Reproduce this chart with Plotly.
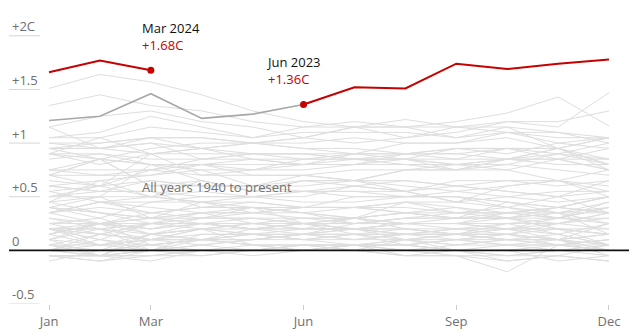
import plotly.graph_objects as go

months = ["Jan", "Feb", "Mar", "Apr", "May", "Jun", "Jul", "Aug", "Sep", "Oct", "Nov", "Dec"]
month_tick_idx = [0, 2, 5, 8, 11]

y_tick_vals = [-0.5, 0, 0.5, 1, 1.5, 2]
y_tick_text = ["-0.5", "0", "+0.5", "+1", "+1.5", "+2C"]

# Monthly anomalies (C above pre-industrial)
hist_1940s = [
    [0.05, 0.15, 0.10, 0.20, 0.25, 0.30, 0.30, 0.35, 0.40, 0.35, 0.30, 0.45],
    [0.40, 0.35, 0.30, 0.35, 0.40, 0.35, 0.40, 0.35, 0.30, 0.45, 0.40, 0.35],
    [0.30, 0.25, 0.20, 0.25, 0.20, 0.25, 0.20, 0.15, 0.20, 0.15, 0.20, 0.15],
    [0.10, 0.25, 0.15, 0.20, 0.20, 0.25, 0.20, 0.25, 0.25, 0.35, 0.30, 0.40],
    [0.45, 0.35, 0.30, 0.30, 0.35, 0.40, 0.40, 0.45, 0.45, 0.40, 0.35, 0.25],
    [0.30, 0.20, 0.25, 0.35, 0.25, 0.20, 0.30, 0.45, 0.35, 0.30, 0.20, 0.05],
    [0.20, 0.15, 0.10, 0.20, 0.05, 0.00, 0.05, 0.05, 0.10, 0.05, 0.10, -0.05],
    [0.05, 0.00, 0.15, 0.10, 0.15, 0.15, 0.10, 0.10, 0.15, 0.25, 0.15, 0.05],
    [0.20, 0.05, 0.00, 0.15, 0.15, 0.10, 0.05, 0.05, 0.10, 0.05, 0.05, 0.00],
    [0.15, 0.05, 0.10, 0.10, 0.05, 0.00, 0.05, 0.05, 0.00, 0.05, 0.00, -0.05],
]
hist_1950s = [
    [-0.05, -0.10, 0.00, -0.05, 0.00, 0.05, 0.00, -0.05, 0.00, -0.10, -0.05, 0.05],
    [-0.05, -0.05, 0.00, 0.05, 0.10, 0.15, 0.15, 0.20, 0.20, 0.20, 0.15, 0.25],
    [0.20, 0.20, 0.10, 0.15, 0.15, 0.10, 0.15, 0.15, 0.15, 0.10, 0.05, 0.10],
    [0.15, 0.25, 0.25, 0.25, 0.20, 0.20, 0.20, 0.20, 0.15, 0.15, 0.10, 0.15],
    [0.00, 0.10, 0.00, 0.00, 0.00, 0.00, 0.00, 0.00, 0.05, 0.10, 0.10, 0.00],
    [0.10, -0.05, -0.05, 0.00, 0.00, 0.05, 0.05, 0.05, 0.00, 0.00, -0.10, -0.05],
    [-0.05, -0.10, -0.05, -0.05, 0.00, 0.00, 0.00, -0.05, -0.05, -0.05, 0.00, 0.05],
    [0.00, 0.05, 0.05, 0.10, 0.20, 0.25, 0.25, 0.25, 0.25, 0.20, 0.25, 0.35],
    [0.40, 0.35, 0.25, 0.20, 0.25, 0.20, 0.20, 0.15, 0.15, 0.20, 0.20, 0.20],
    [0.20, 0.15, 0.25, 0.25, 0.20, 0.20, 0.20, 0.20, 0.15, 0.10, 0.10, 0.15],
]
hist_1960s = [
    [0.10, 0.20, 0.00, 0.10, 0.10, 0.15, 0.10, 0.15, 0.20, 0.20, 0.10, 0.25],
    [0.15, 0.25, 0.20, 0.25, 0.25, 0.25, 0.15, 0.15, 0.15, 0.10, 0.15, 0.05],
    [0.20, 0.20, 0.15, 0.20, 0.15, 0.20, 0.20, 0.15, 0.15, 0.20, 0.20, 0.15],
    [0.15, 0.25, 0.05, 0.10, 0.15, 0.15, 0.25, 0.30, 0.30, 0.30, 0.35, 0.15],
    [0.20, 0.10, 0.05, 0.00, 0.00, 0.05, 0.05, -0.05, -0.05, -0.10, -0.05, -0.10],
    [0.00, -0.05, 0.00, 0.00, 0.05, 0.05, 0.00, 0.10, 0.05, 0.10, 0.05, 0.10],
    [0.00, 0.15, 0.10, 0.05, 0.10, 0.15, 0.15, 0.10, 0.05, 0.05, 0.05, 0.05],
    [0.05, -0.05, 0.10, 0.10, 0.10, 0.10, 0.10, 0.15, 0.10, 0.15, 0.10, 0.05],
    [-0.05, -0.05, 0.15, 0.10, 0.05, 0.05, 0.05, 0.10, 0.10, 0.15, 0.10, 0.05],
    [0.05, 0.05, 0.15, 0.25, 0.30, 0.25, 0.20, 0.25, 0.25, 0.25, 0.30, 0.30],
]
hist_1970s = [
    [0.25, 0.30, 0.15, 0.20, 0.15, 0.10, 0.15, 0.05, 0.10, 0.10, 0.10, 0.00],
    [0.00, -0.05, -0.05, 0.00, 0.00, 0.00, 0.05, 0.05, 0.00, 0.00, 0.05, 0.00],
    [-0.10, 0.00, 0.05, 0.10, 0.10, 0.15, 0.20, 0.25, 0.20, 0.25, 0.25, 0.35],
    [0.35, 0.45, 0.40, 0.35, 0.35, 0.30, 0.30, 0.20, 0.15, 0.15, 0.05, 0.00],
    [-0.05, -0.05, 0.00, 0.05, 0.00, 0.05, 0.05, 0.10, 0.00, -0.05, 0.00, 0.00],
    [0.10, 0.05, 0.10, 0.10, 0.05, 0.05, 0.05, 0.00, 0.00, -0.05, -0.05, -0.10],
    [-0.05, -0.05, -0.10, 0.00, -0.05, 0.00, 0.05, 0.00, -0.05, -0.20, 0.05, 0.10],
    [0.15, 0.25, 0.30, 0.35, 0.35, 0.35, 0.30, 0.25, 0.25, 0.20, 0.30, 0.25],
    [0.25, 0.25, 0.30, 0.25, 0.20, 0.15, 0.20, 0.10, 0.15, 0.15, 0.25, 0.20],
    [0.20, 0.10, 0.25, 0.25, 0.20, 0.25, 0.25, 0.30, 0.35, 0.35, 0.40, 0.50],
]
hist_1980s = [
    [0.35, 0.45, 0.35, 0.40, 0.45, 0.40, 0.40, 0.40, 0.35, 0.35, 0.40, 0.35],
    [0.55, 0.45, 0.50, 0.45, 0.35, 0.40, 0.40, 0.45, 0.40, 0.30, 0.35, 0.45],
    [0.20, 0.25, 0.20, 0.30, 0.30, 0.25, 0.30, 0.25, 0.30, 0.30, 0.40, 0.50],
    [0.60, 0.55, 0.55, 0.50, 0.50, 0.45, 0.45, 0.50, 0.50, 0.40, 0.50, 0.35],
    [0.35, 0.25, 0.35, 0.30, 0.40, 0.25, 0.30, 0.35, 0.30, 0.30, 0.20, 0.15],
    [0.25, 0.15, 0.25, 0.30, 0.30, 0.30, 0.25, 0.30, 0.30, 0.30, 0.25, 0.30],
    [0.35, 0.40, 0.35, 0.40, 0.40, 0.35, 0.30, 0.35, 0.30, 0.35, 0.35, 0.35],
    [0.40, 0.50, 0.30, 0.45, 0.50, 0.55, 0.60, 0.55, 0.60, 0.55, 0.50, 0.65],
    [0.70, 0.60, 0.65, 0.60, 0.60, 0.55, 0.55, 0.50, 0.50, 0.45, 0.35, 0.40],
    [0.35, 0.45, 0.45, 0.45, 0.40, 0.40, 0.50, 0.50, 0.50, 0.45, 0.40, 0.50],
]
hist_1990s = [
    [0.45, 0.50, 0.80, 0.65, 0.55, 0.55, 0.55, 0.55, 0.45, 0.60, 0.65, 0.55],
    [0.60, 0.65, 0.50, 0.65, 0.55, 0.65, 0.65, 0.60, 0.55, 0.50, 0.45, 0.50],
    [0.60, 0.55, 0.55, 0.40, 0.40, 0.35, 0.25, 0.25, 0.25, 0.30, 0.30, 0.40],
    [0.50, 0.50, 0.50, 0.45, 0.45, 0.40, 0.40, 0.35, 0.35, 0.40, 0.30, 0.40],
    [0.40, 0.30, 0.45, 0.50, 0.50, 0.55, 0.50, 0.50, 0.55, 0.60, 0.65, 0.60],
    [0.70, 0.85, 0.60, 0.65, 0.55, 0.65, 0.65, 0.65, 0.60, 0.65, 0.65, 0.50],
    [0.50, 0.60, 0.50, 0.55, 0.50, 0.50, 0.60, 0.55, 0.45, 0.50, 0.55, 0.55],
    [0.50, 0.55, 0.65, 0.60, 0.60, 0.70, 0.65, 0.75, 0.80, 0.85, 0.85, 0.85],
    [0.90, 1.05, 0.90, 0.95, 0.90, 0.85, 0.90, 0.85, 0.75, 0.75, 0.65, 0.75],
    [0.70, 0.85, 0.60, 0.60, 0.60, 0.60, 0.65, 0.55, 0.65, 0.65, 0.60, 0.65],
]
hist_2000s = [
    [0.45, 0.65, 0.70, 0.75, 0.60, 0.65, 0.60, 0.65, 0.60, 0.55, 0.50, 0.55],
    [0.65, 0.60, 0.75, 0.70, 0.75, 0.75, 0.80, 0.85, 0.80, 0.80, 0.90, 0.80],
    [0.95, 0.95, 1.00, 0.85, 0.85, 0.85, 0.85, 0.80, 0.80, 0.75, 0.85, 0.75],
    [0.90, 0.85, 0.80, 0.80, 0.85, 0.80, 0.80, 0.90, 0.90, 0.95, 0.85, 0.95],
    [0.85, 0.90, 0.80, 0.80, 0.70, 0.70, 0.65, 0.75, 0.75, 0.85, 0.95, 0.80],
    [0.90, 0.80, 0.90, 0.90, 0.90, 0.90, 0.85, 0.85, 0.95, 0.95, 0.95, 0.85],
    [0.75, 0.85, 0.80, 0.75, 0.75, 0.85, 0.85, 0.85, 0.85, 0.95, 0.90, 1.00],
    [1.15, 0.95, 0.90, 0.95, 0.85, 0.80, 0.80, 0.80, 0.75, 0.80, 0.75, 0.70],
    [0.55, 0.60, 0.90, 0.70, 0.70, 0.70, 0.75, 0.75, 0.75, 0.85, 0.85, 0.75],
    [0.75, 0.70, 0.70, 0.80, 0.80, 0.80, 0.90, 0.90, 0.90, 0.85, 0.90, 0.85],
]
hist_2010s = [
    [0.95, 1.00, 1.05, 1.05, 1.00, 0.95, 0.95, 0.90, 0.85, 0.85, 0.95, 0.75],
    [0.70, 0.70, 0.75, 0.80, 0.75, 0.80, 0.85, 0.85, 0.80, 0.85, 0.80, 0.80],
    [0.75, 0.75, 0.75, 0.85, 0.90, 0.90, 0.90, 0.90, 0.95, 0.95, 0.95, 0.80],
    [0.90, 0.90, 0.85, 0.85, 0.90, 0.90, 0.85, 0.90, 0.95, 0.90, 1.00, 0.95],
    [0.95, 0.85, 0.95, 1.00, 1.00, 0.95, 0.90, 1.00, 1.00, 1.05, 0.95, 1.05],
    [1.00, 1.00, 1.05, 0.95, 1.00, 1.05, 1.00, 1.05, 1.10, 1.20, 1.15, 1.47],
    [1.51, 1.64, 1.57, 1.45, 1.30, 1.20, 1.15, 1.22, 1.15, 1.10, 1.10, 1.00],
    [1.15, 1.25, 1.30, 1.20, 1.15, 1.05, 1.15, 1.15, 1.05, 1.10, 1.05, 1.05],
    [0.95, 0.95, 1.05, 1.05, 1.00, 1.00, 1.05, 1.00, 1.00, 1.10, 1.00, 1.05],
    [1.05, 1.10, 1.25, 1.15, 1.05, 1.15, 1.20, 1.15, 1.15, 1.20, 1.20, 1.30],
]
hist_2020s = [
    [1.35, 1.45, 1.35, 1.30, 1.20, 1.15, 1.15, 1.15, 1.20, 1.28, 1.43, 1.16],
    [1.00, 0.95, 1.00, 0.95, 1.00, 1.05, 1.15, 1.05, 1.15, 1.15, 1.10, 1.05],
    [1.05, 1.05, 1.15, 1.10, 1.05, 1.10, 1.10, 1.10, 1.05, 1.15, 0.95, 1.05],
]

y2023 = [1.21, 1.25, 1.46, 1.23, 1.27, 1.36, 1.52, 1.51, 1.74, 1.69, 1.74, 1.78]
y2024 = [1.66, 1.77, 1.68]

grey = "#dedede"
red = "#c70000"
font_family = "Open Sans, Noto Sans, sans-serif"

fig = go.Figure()

x_idx = list(range(12))
for decade in [hist_1940s, hist_1950s, hist_1960s, hist_1970s, hist_1980s,
               hist_1990s, hist_2000s, hist_2010s, hist_2020s]:
    for row in decade:
        fig.add_trace(go.Scatter(x=x_idx, y=row, mode="lines",
                                 line=dict(color=grey, width=1),
                                 hoverinfo="skip", showlegend=False))

# 2023 Jan-Jun (dark grey)
fig.add_trace(go.Scatter(x=x_idx[:6], y=y2023[:6], mode="lines",
                         line=dict(color="#a8a8a8", width=1.6),
                         showlegend=False))
# 2023 Jun-Dec (red)
fig.add_trace(go.Scatter(x=x_idx[5:], y=y2023[5:], mode="lines",
                         line=dict(color=red, width=2), showlegend=False))
# 2024 Jan-Mar (red)
fig.add_trace(go.Scatter(x=x_idx[:3], y=y2024, mode="lines",
                         line=dict(color=red, width=2), showlegend=False))
# markers
fig.add_trace(go.Scatter(x=[2, 5], y=[y2024[2], y2023[5]], mode="markers",
                         marker=dict(color=red, size=7), showlegend=False))

# short grid segments at the left, black zero line across
for v in y_tick_vals:
    if v == 0:
        fig.add_shape(type="line", xref="paper", yref="y", x0=0, x1=1,
                      y0=v, y1=v, layer="above",
                      line=dict(color="#121212", width=1.6))
    else:
        fig.add_shape(type="line", xref="paper", yref="y", x0=0, x1=0.05,
                      y0=v, y1=v, line=dict(color="#d6d6d6", width=1))

fig.add_annotation(x=2, y=y2024[2], xref="x", yref="y",
                   text="Mar 2024<br><span style='color:%s'>+%.2fC</span>" % (red, y2024[2]),
                   showarrow=False, xanchor="left", yanchor="bottom", align="left",
                   xshift=-11, yshift=14,
                   font=dict(family=font_family, size=13, color="#121212"))
fig.add_annotation(x=5, y=y2023[5], xref="x", yref="y",
                   text="Jun 2023<br><span style='color:%s'>+%.2fC</span>" % (red, y2023[5]),
                   showarrow=False, xanchor="left", yanchor="bottom", align="left",
                   xshift=-40, yshift=14,
                   font=dict(family=font_family, size=13, color="#121212"))
fig.add_annotation(x=2, y=0.593, xref="x", yref="y",
                   text="All years 1940 to present",
                   showarrow=False, xanchor="left", yanchor="middle", xshift=-11,
                   font=dict(family=font_family, size=13, color="#707070"))

fig.update_layout(
    width=635, height=336,
    margin=dict(l=9, r=6, t=9, b=30),
    paper_bgcolor="white", plot_bgcolor="white",
    font=dict(family=font_family, size=13, color="#707070"),
    xaxis=dict(range=[-0.786, 11.393], tickvals=month_tick_idx,
               ticktext=[months[i] for i in month_tick_idx],
               showgrid=False, zeroline=False, showline=False,
               ticks="outside", ticklen=5, tickcolor="#cccccc",
               tickfont=dict(size=13, color="#707070"), fixedrange=True),
    yaxis=dict(range=[-0.5, 2.25], tickvals=y_tick_vals, ticktext=y_tick_text,
               showgrid=False, zeroline=False, showline=False,
               ticklabelposition="inside top",
               tickfont=dict(size=13, color="#707070"), fixedrange=True),
)

fig.write_html("out.html")
